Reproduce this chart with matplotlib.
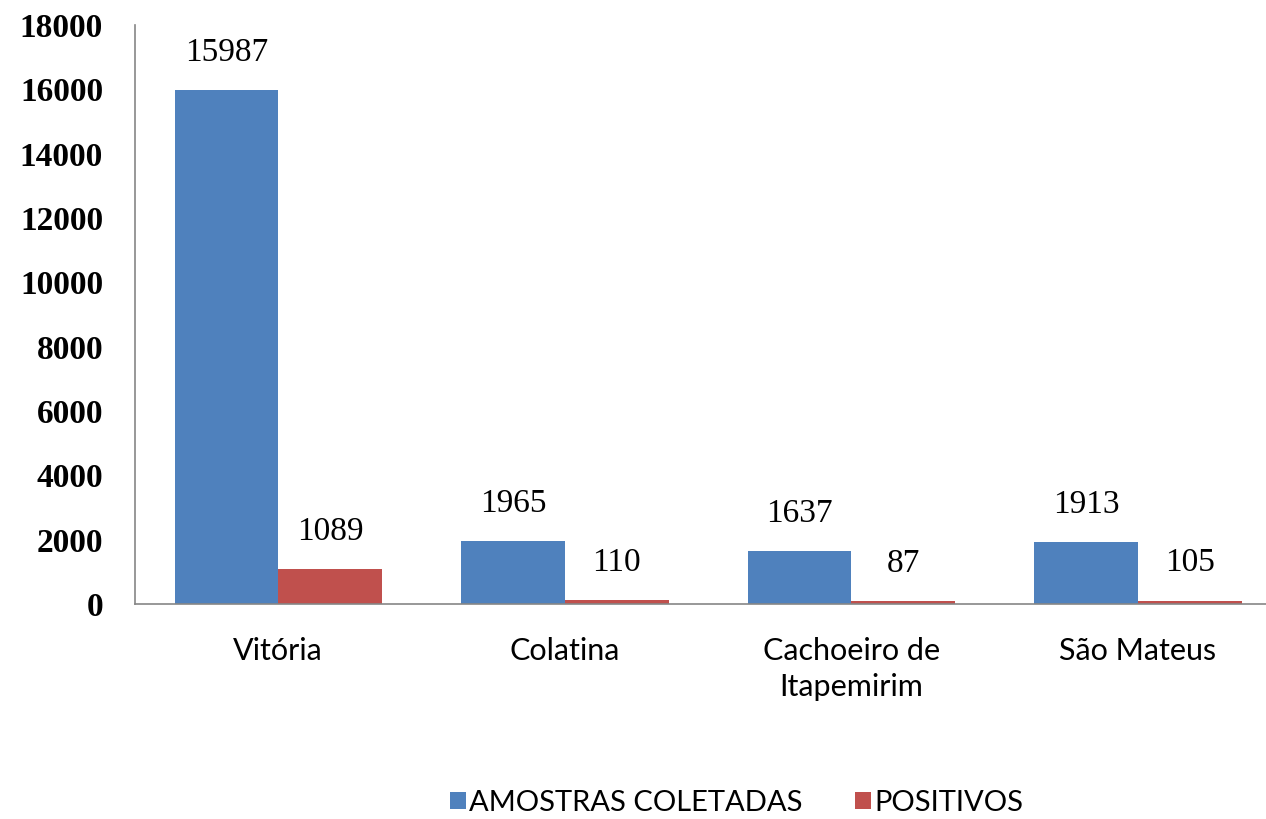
#!/usr/bin/env python

import numpy as np
import matplotlib
matplotlib.use('Agg')
import matplotlib.pyplot as plt

cidades = ['Vitória', 'Colatina', 'Cachoeiro de\nItapemirim', 'São Mateus']
amostras = [15987, 1965, 1637, 1913]
positivos = [1089, 110, 87, 105]
yticks = [0, 2000, 4000, 6000, 8000, 10000, 12000, 14000, 16000, 18000]


def main():
    fig = plt.figure(figsize=(12.66, 8.19), dpi=100)
    ax = fig.add_axes([0.1066, 0.2625, 1.012 - 0.1066, 0.9695 - 0.2625])

    x = np.arange(len(cidades))
    w = 0.362
    azul = '#4F81BD'
    vermelho = '#C0504D'
    b1 = ax.bar(x - w / 2, amostras, w, color=azul, label='AMOSTRAS COLETADAS')
    b2 = ax.bar(x + w / 2, positivos, w, color=vermelho, label='POSITIVOS')

    for bars in (b1, b2):
        for b in bars:
            ax.annotate(str(int(b.get_height())),
                        (b.get_x() + b.get_width() / 2, b.get_height()),
                        xytext=(0, 16), textcoords='offset points',
                        ha='center', va='bottom', fontsize=24,
                        family='Liberation Serif')

    ax.set_xlim(-0.5, 3.5)
    ax.set_ylim(0, 18000)
    ax.set_yticks(yticks)
    ax.set_yticklabels([str(t) for t in yticks], fontsize=24,
                       fontweight='bold', family='Liberation Serif')
    ax.set_xticks(x)
    ax.set_xticklabels(cidades, fontsize=22, family='Lato', linespacing=1.35)
    ax.tick_params(axis='y', length=0, pad=23)
    ax.tick_params(axis='x', length=0, pad=24)

    for s in ('top', 'right'):
        ax.spines[s].set_visible(False)
    for s in ('left', 'bottom'):
        ax.spines[s].set_color('#868686')
        ax.spines[s].set_linewidth(1.2)

    fig.legend(handles=[b1, b2], loc='center', bbox_to_anchor=(0.582, 0.02),
               ncol=2, frameon=False, handlelength=0.55,
               handleheight=0.55, handletextpad=0.1, columnspacing=1.8,
               prop={'family': 'Lato', 'size': 21})

    fig.savefig('out.png', dpi=100)


if __name__ == '__main__':
    main()
